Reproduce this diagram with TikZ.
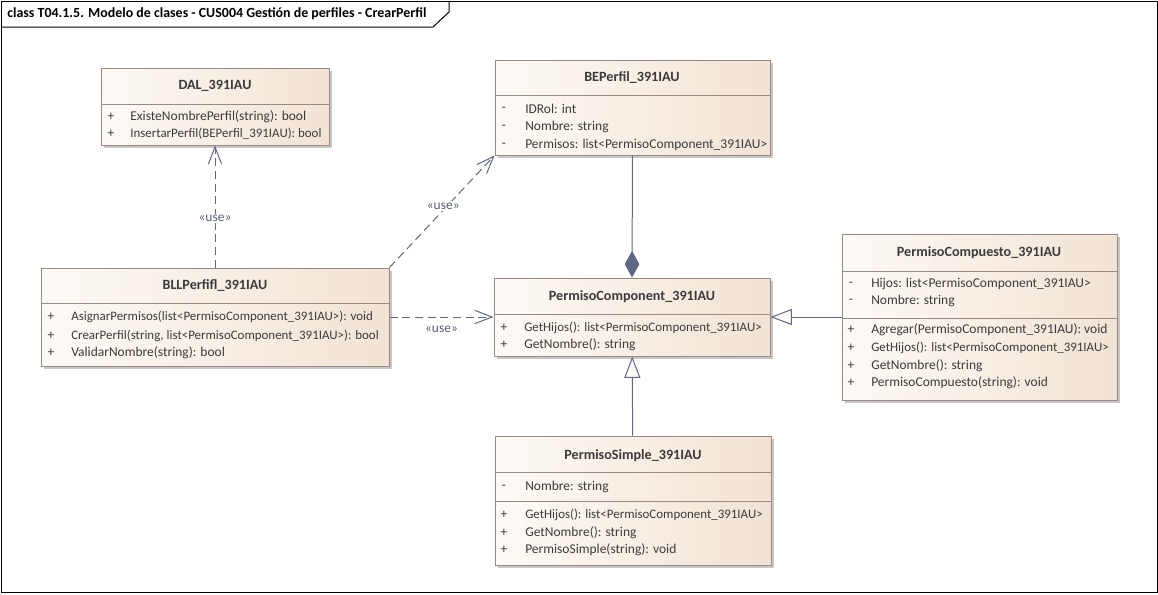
\documentclass[tikz,border=0pt]{standalone}
\usepackage{fontspec}
\setmainfont{Carlito}
\usetikzlibrary{arrows.meta,positioning,shadows,fit}

\definecolor{boxlight}{HTML}{FDFAF6}
\definecolor{boxdark}{HTML}{F2E3D4}
\definecolor{boxline}{HTML}{9A8985}
\definecolor{linkcolor}{HTML}{5E6884}
\definecolor{txtcolor}{HTML}{3B3B3B}

\begin{document}
\begin{tikzpicture}[x=0.75pt, y=-0.75pt,
    every node/.style={font=\fontsize{10.1}{12}\selectfont, text=txtcolor, inner sep=0pt},
    classbox/.style={draw=boxline, line width=0.75pt, left color=boxlight, right color=boxdark, inner sep=0pt,
                     drop shadow={shadow xshift=2pt, shadow yshift=-2pt, fill=black, opacity=0.22}},
    classname/.style={font=\bfseries\fontsize{10.6}{12}\selectfont},
    member/.style={anchor=west},
    tightmember/.style={anchor=west, font=\fontsize{9.7}{12}\selectfont},
    vis/.style={anchor=center},
    divider/.style={draw=boxline, line width=0.75pt},
    usedep/.style={draw=linkcolor, line width=0.75pt, dash pattern=on 6pt off 3.5pt, -{Straight Barb[length=13pt, width=10pt, line width=0.75pt]}},
    uselabel/.style={fill=white, inner sep=1pt, text=linkcolor!90!black},
    generalization/.style={draw=linkcolor, line width=0.75pt, -{Triangle[open, fill=boxlight, length=16pt, width=12pt, line width=0.75pt]}},
    composite/.style={draw=linkcolor, line width=0.75pt, -{Diamond[fill=linkcolor, length=20pt, width=11pt]}}
  ]
  \useasboundingbox (0,0) rectangle (1158,594);

  % frame and title tab
  \draw[line width=0.75pt] (1,1) rectangle (1157,592);
  \draw[line width=0.75pt] (1,27) -- (433,27) -- (449,12) -- (449,1);
  \node[anchor=west, text=black, font=\bfseries\fontsize{10.45}{12}\selectfont] (title) at (7,14) {class T04.1.5. Modelo de clases - CUS004 Gestión de perfiles - CrearPerfil};

  % DAL
  \node[classbox, fit={(101,68) (329,145)}] (DAL) {};
  \node[classname] (DALname) at (215,86) {DAL\_391IAU};
  \draw[divider] (101,104) -- (329,104);
  \node[vis] (DALv1) at (111,117) {+};
  \node[member] (DALm1) at (130,117) {ExisteNombrePerfil(string): bool};
  \node[vis] (DALv2) at (111,134) {+};
  \node[tightmember] (DALm2) at (130,134) {InsertarPerfil(BEPerfil\_391IAU): bool};

  % BEPerfil
  \node[classbox, fit={(495,60) (770,155)}] (BEPerfil) {};
  \node[classname] (BEPerfilname) at (632,78) {BEPerfil\_391IAU};
  \draw[divider] (495,95) -- (770,95);
  \node[vis] (BEPerfilv1) at (504,109) {-};
  \node[member] (BEPerfilm1) at (525,109) {IDRol: int};
  \node[vis] (BEPerfilv2) at (504,127) {-};
  \node[member] (BEPerfilm2) at (525,127) {Nombre: string};
  \node[vis] (BEPerfilv3) at (504,145) {-};
  \node[member] (BEPerfilm3) at (525,145) {Permisos: list<PermisoComponent\_391IAU>};

  % BLLPerfil
  \node[classbox, fit={(41,268) (389,366)}] (BLL) {};
  \node[classname] (BLLname) at (215,286) {BLLPerfifl\_391IAU};
  \draw[divider] (41,303) -- (389,303);
  \node[vis] (BLLv1) at (51,317) {+};
  \node[tightmember] (BLLm1) at (71,317) {AsignarPermisos(list<PermisoComponent\_391IAU>): void};
  \node[vis] (BLLv2) at (51,336) {+};
  \node[tightmember] (BLLm2) at (71,336) {CrearPerfil(string, list<PermisoComponent\_391IAU>): bool};
  \node[vis] (BLLv3) at (51,353) {+};
  \node[member] (BLLm3) at (71,353) {ValidarNombre(string): bool};

  % PermisoComponent
  \node[classbox, fit={(494,278) (770,356)}] (PermisoComponent) {};
  \node[classname] (PermisoComponentname) at (632,297) {PermisoComponent\_391IAU};
  \draw[divider] (494,314) -- (770,314);
  \node[vis] (PermisoComponentv1) at (504,328) {+};
  \node[tightmember] (PermisoComponentm1) at (524,328) {GetHijos(): list<PermisoComponent\_391IAU>};
  \node[vis] (PermisoComponentv2) at (504,345) {+};
  \node[member] (PermisoComponentm2) at (524,345) {GetNombre(): string};

  % PermisoCompuesto
  \node[classbox, fit={(842,234) (1117,400)}] (PermisoCompuesto) {};
  \node[classname] (PermisoCompuestoname) at (979,253) {PermisoCompuesto\_391IAU};
  \draw[divider] (842,271) -- (1117,271);
  \node[vis] (PermisoCompuestov1) at (851,284) {-};
  \node[member] (PermisoCompuestom1) at (871,284) {Hijos: list<PermisoComponent\_391IAU>};
  \node[vis] (PermisoCompuestov2) at (851,301) {-};
  \node[member] (PermisoCompuestom2) at (871,301) {Nombre: string};
  \draw[divider] (842,318) -- (1117,318);
  \node[vis] (PermisoCompuestov3) at (851,330) {+};
  \node[member] (PermisoCompuestom3) at (871,330) {Agregar(PermisoComponent\_391IAU): void};
  \node[vis] (PermisoCompuestov4) at (851,348) {+};
  \node[tightmember] (PermisoCompuestom4) at (871,348) {GetHijos(): list<PermisoComponent\_391IAU>};
  \node[vis] (PermisoCompuestov5) at (851,366) {+};
  \node[member] (PermisoCompuestom5) at (871,366) {GetNombre(): string};
  \node[vis] (PermisoCompuestov6) at (851,383) {+};
  \node[member] (PermisoCompuestom6) at (871,383) {PermisoCompuesto(string): void};

  % PermisoSimple
  \node[classbox, fit={(495,436) (771,565)}] (PermisoSimple) {};
  \node[classname] (PermisoSimplename) at (633,456) {PermisoSimple\_391IAU};
  \draw[divider] (495,472) -- (771,472);
  \node[vis] (PermisoSimplev1) at (504,487) {-};
  \node[member] (PermisoSimplem1) at (525,487) {Nombre: string};
  \draw[divider] (495,501) -- (771,501);
  \node[vis] (PermisoSimplev2) at (504,515) {+};
  \node[tightmember] (PermisoSimplem2) at (525,515) {GetHijos(): list<PermisoComponent\_391IAU>};
  \node[vis] (PermisoSimplev3) at (504,533) {+};
  \node[member] (PermisoSimplem3) at (525,533) {GetNombre(): string};
  \node[vis] (PermisoSimplev4) at (504,550) {+};
  \node[member] (PermisoSimplem4) at (525,550) {PermisoSimple(string): void};

  % connectors
  \draw[usedep] (BLL.north) -- node[uselabel, pos=0.4] (use1) {«use»} (DAL.south);
  \draw[usedep] (BLL.north east) -- node[uselabel, pos=0.55, xshift=-3pt] (use2) {«use»} (BEPerfil.south west);
  \draw[usedep] (BLL) -- node[uselabel, midway, below=5pt] (use3) {«use»} (PermisoComponent);
  \draw[composite] (BEPerfil.south) -- (PermisoComponent.north);
  \draw[generalization] (PermisoCompuesto) -- (PermisoComponent);
  \draw[generalization] (PermisoSimple) -- (PermisoComponent);
\end{tikzpicture}
\end{document}
